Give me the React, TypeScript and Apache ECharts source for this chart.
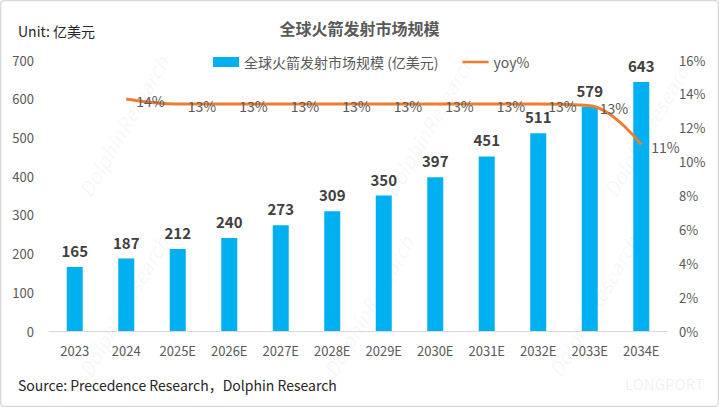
import React, { useEffect, useRef } from "react";
import * as echarts from "echarts";

const categories = ["2023", "2024", "2025E", "2026E", "2027E", "2028E", "2029E", "2030E", "2031E", "2032E", "2033E", "2034E"];
const marketSize = [165, 187, 212, 240, 273, 309, 350, 397, 451, 511, 579, 643];
const yoy: (number | null)[] = [null, 0.137, 0.134, 0.134, 0.134, 0.134, 0.134, 0.134, 0.134, 0.134, 0.133, 0.11];
const barName = "全球火箭发射市场规模 (亿美元)";
const lineName = "yoy%";
const titleText = "全球火箭发射市场规模";
const unitText = "Unit: 亿美元";
const sourceText = "Source: Precedence Research，Dolphin Research";

const FONT = "'Noto Sans CJK SC', 'Noto Sans', sans-serif";

export default function App() {
  const ref = useRef<HTMLDivElement>(null);
  useEffect(() => {
    if (!ref.current) return;
    const chart = echarts.init(ref.current, null, { renderer: "svg" });
    const wm = (x: number, y: number) => ({
      type: "text",
      x,
      y,
      rotation: Math.PI / 3,
      silent: true,
      style: { text: "DolphinResearch", fill: "rgba(0,0,0,0.045)", font: `italic 20px ${FONT}` },
    });
    chart.setOption({
      animation: false,
      textStyle: { fontFamily: FONT },
      title: {
        text: titleText,
        left: "center",
        top: 15,
        textStyle: { fontSize: 16, fontWeight: "bold", color: "#595959", fontFamily: FONT },
      },
      legend: {
        top: 50,
        left: 208,
        itemGap: 24,
        itemWidth: 26,
        itemHeight: 10,
        textStyle: { fontSize: 14, color: "#595959", fontFamily: FONT },
        data: [
          { name: barName, icon: "rect" },
          { name: lineName, icon: "path://M0,4 L30,4 L30,7 L0,7 Z" },
        ],
      },
      grid: { left: 49, right: 52, top: 60, bottom: 76 },
      xAxis: {
        type: "category",
        data: categories,
        axisTick: { show: false },
        axisLine: { lineStyle: { color: "#d9d9d9", width: 1 } },
        axisLabel: { color: "#595959", fontSize: 13, margin: 13, fontFamily: FONT },
      },
      yAxis: [
        {
          type: "value",
          min: 0,
          max: 700,
          interval: 100,
          splitLine: { show: false },
          axisLine: { show: false },
          axisTick: { show: false },
          axisLabel: { color: "#595959", fontSize: 13, margin: 15, fontFamily: FONT },
        },
        {
          type: "value",
          min: 0,
          max: 0.16,
          interval: 0.02,
          splitLine: { show: false },
          axisLine: { show: false },
          axisTick: { show: false },
          axisLabel: {
            color: "#595959",
            fontSize: 13,
            margin: 12,
            fontFamily: FONT,
            formatter: (v: number) => `${Math.round(v * 100)}%`,
          },
        },
      ],
      series: [
        {
          name: barName,
          type: "bar",
          data: marketSize,
          barWidth: 16,
          itemStyle: { color: "#00B0F0" },
          label: {
            show: true,
            position: "top",
            distance: 9,
            fontSize: 15,
            fontWeight: "bold",
            color: "#404040",
            fontFamily: FONT,
          },
        },
        {
          name: lineName,
          type: "line",
          yAxisIndex: 1,
          data: yoy,
          smooth: 0.4,
          showSymbol: true,
          symbol: "circle",
          symbolSize: 0.1,
          lineStyle: { color: "#ED7D31", width: 3 },
          itemStyle: { color: "#ED7D31" },
          label: {
            show: true,
            position: "right",
            distance: 10,
            offset: [0, 2],
            fontSize: 14,
            color: "#595959",
            fontFamily: FONT,
            formatter: (p: any) => (p.value == null ? "" : `${Math.round(p.value * 100)}%`),
          },
          z: 3,
        },
      ],
      graphic: [
        wm(75, 190),
        wm(380, 190),
        wm(600, 190),
        wm(75, 370),
        wm(320, 370),
        wm(545, 370),
        {
          type: "text",
          left: 18,
          top: 24,
          style: { text: unitText, fill: "#262626", font: `14px ${FONT}` },
        },
        {
          type: "text",
          left: 18,
          top: 378,
          style: { text: sourceText, fill: "#262626", font: `14px ${FONT}` },
        },
        {
          type: "text",
          left: 625,
          top: 376,
          style: { text: "LONGPORT", fill: "rgba(0,0,0,0.07)", font: `15px ${FONT}` },
        },
        {
          type: "rect",
          shape: { x: 0.5, y: 0.5, width: 718, height: 406, r: 4 },
          style: { fill: "none", stroke: "#d9d9d9", lineWidth: 1.5 },
          silent: true,
        },
      ],
    });
    return () => chart.dispose();
  }, []);
  return (
    <div
      ref={ref}
      style={{ position: "fixed", left: 0, top: 0, width: 719, height: 407, background: "#fff" }}
    />
  );
}
